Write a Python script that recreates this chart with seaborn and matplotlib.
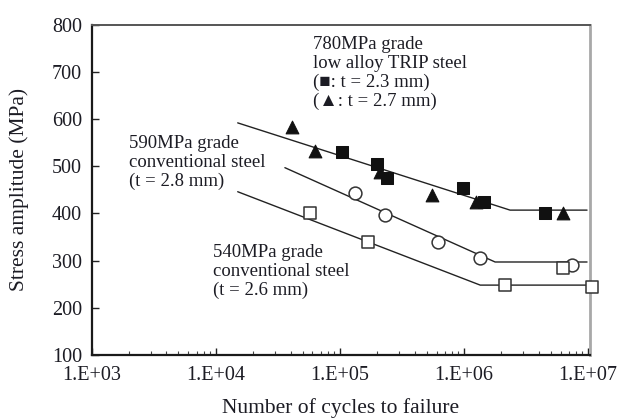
import numpy as np
import pandas as pd
import matplotlib
matplotlib.use('Agg')
import matplotlib.pyplot as plt
import seaborn as sns
from matplotlib.ticker import FixedLocator, FixedFormatter, LogLocator, NullFormatter

# ---- data ---------------------------------------------------------------
# 780MPa grade low alloy TRIP steel
trip_sq_x = [1.04e5, 2.0e5, 2.4e5, 9.8e5, 1.45e6, 4.5e6]
trip_sq_y = [530, 505, 475, 454, 425, 400]
trip_tri_x = [4.1e4, 6.3e4, 2.1e5, 5.5e5, 1.25e6, 6.3e6]
trip_tri_y = [584, 532, 488, 439, 425, 400]
trip_line_x = [1.5e4, 2.35e6, 9.8e6]
trip_line_y = [592, 407, 407]

# 590MPa grade conventional steel
c590_x = [1.32e5, 2.3e5, 6.2e5, 1.35e6, 7.4e6]
c590_y = [444, 397, 340, 306, 291]
c590_line_x = [3.6e4, 1.78e6, 9.8e6]
c590_line_y = [497, 297, 297]

# 540MPa grade conventional steel
c540_x = [5.7e4, 1.68e5, 2.15e6, 6.3e6, 1.07e7]
c540_y = [401, 340, 248, 284, 244]
c540_line_x = [1.5e4, 1.35e6, 9.8e6]
c540_line_y = [446, 248, 248]

x_ticks = [1e3, 1e4, 1e5, 1e6, 1e7]
x_tick_labels = ['1.E+03', '1.E+04', '1.E+05', '1.E+06', '1.E+07']
y_ticks = [100, 200, 300, 400, 500, 600, 700, 800]

# ---- style -----------------------------------------------------------------
sns.set_style('ticks')
plt.rcParams['font.family'] = ['Liberation Serif', 'DejaVu Serif']
plt.rcParams['font.size'] = 14
TXT = '#1c1c24'

fig = plt.figure(figsize=(6.2, 4.2), dpi=100)
ax = fig.add_axes([0.148, 0.155, 0.804, 0.786])
ax.set_xscale('log')

# fitted S-N lines
for lx, ly in [(trip_line_x, trip_line_y), (c590_line_x, c590_line_y),
               (c540_line_x, c540_line_y)]:
    sns.lineplot(x=lx, y=ly, ax=ax, color='#222222', lw=1.0,
                 estimator=None, sort=False, zorder=2)

# measured points
sns.scatterplot(x=trip_sq_x, y=trip_sq_y, ax=ax, marker='s', s=85,
                color='#111111', edgecolor='#111111', zorder=3)
sns.scatterplot(x=trip_tri_x, y=trip_tri_y, ax=ax, marker='^', s=85,
                color='#111111', edgecolor='#111111', zorder=3)
sns.scatterplot(x=c590_x, y=c590_y, ax=ax, marker='o', s=85,
                facecolor='white', edgecolor='#333333', linewidth=1.1, zorder=3)
sns.scatterplot(x=c540_x, y=c540_y, ax=ax, marker='s', s=85,
                facecolor='white', edgecolor='#333333', linewidth=1.1, zorder=3)
for coll in ax.collections:
    coll.set_clip_on(False)

# axes limits / ticks
ax.set_xlim(1e3, 1.04e7)
ax.set_ylim(100, 800)
ax.xaxis.set_major_locator(FixedLocator(x_ticks))
ax.xaxis.set_major_formatter(FixedFormatter(x_tick_labels))
ax.xaxis.set_minor_locator(LogLocator(base=10, subs=np.arange(2, 10)))
ax.xaxis.set_minor_formatter(NullFormatter())
ax.yaxis.set_major_locator(FixedLocator(y_ticks))
ax.tick_params(axis='both', which='major', direction='in', length=5,
               width=1.0, colors='#222222', labelcolor=TXT, labelsize=14.5)
ax.tick_params(axis='x', which='major', pad=8)
ax.tick_params(axis='y', which='major', pad=7)
ax.tick_params(axis='x', which='minor', direction='in', length=3, width=0.8,
               colors='#444444')

for side in ['left', 'bottom']:
    ax.spines[side].set_linewidth(1.6)
    ax.spines[side].set_color('#1a1a1a')
ax.spines['top'].set_linewidth(1.4)
ax.spines['top'].set_color('#555555')
ax.spines['right'].set_linewidth(2.0)
ax.spines['right'].set_color('#a8a8a8')

ax.set_xlabel('Number of cycles to failure', fontsize=15.5, color=TXT)
ax.set_ylabel('Stress amplitude (MPa)', fontsize=15.5, color=TXT)
ax.xaxis.set_label_coords(0.5, -0.13)
ax.yaxis.set_label_coords(-0.125, 0.5)

# series annotations
ax.text(0.444, 0.967, '780MPa grade\nlow alloy TRIP steel\n(■: t = 2.3 mm)\n(▲: t = 2.7 mm)',
        transform=ax.transAxes, ha='left', va='top', fontsize=13.5,
        linespacing=1.15, color=TXT)
ax.text(0.074, 0.667, '590MPa grade\nconventional steel\n(t = 2.8 mm)',
        transform=ax.transAxes, ha='left', va='top', fontsize=13.5,
        linespacing=1.15, color=TXT)
ax.text(0.243, 0.336, '540MPa grade\nconventional steel\n(t = 2.6 mm)',
        transform=ax.transAxes, ha='left', va='top', fontsize=13.5,
        linespacing=1.15, color=TXT)

fig.savefig('out.png', dpi=100)
